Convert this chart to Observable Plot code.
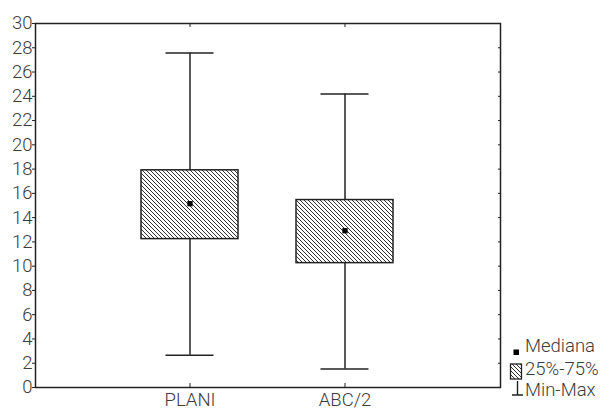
<!DOCTYPE html>
<html>
<head>
<meta charset="utf-8">
<script src="https://cdn.jsdelivr.net/npm/d3@7"></script>
<script src="https://cdn.jsdelivr.net/npm/@observablehq/plot@0.6"></script>
<style>
  html, body { margin: 0; padding: 0; background: #fff; }
  #chart svg { font-family: Roboto, "DejaVu Sans", sans-serif; font-weight: 300; }
  #chart svg text { font-size: 18.5px; }
</style>
</head>
<body>
<div id="chart"></div>
<script>
const categories = ["PLANI", "ABC/2"];
const minValues = [2.65, 1.52];
const q1Values = [12.23, 10.25];
const medianValues = [15.15, 12.92];
const q3Values = [17.9, 15.45];
const maxValues = [27.57, 24.19];
const yTicks = [0, 2, 4, 6, 8, 10, 12, 14, 16, 18, 20, 22, 24, 26, 28, 30];
const legendLabels = ["Mediana", "25%-75%", "Min-Max"];

const data = categories.map((c, i) => ({
  cat: c, min: minValues[i], q1: q1Values[i], med: medianValues[i], q3: q3Values[i], max: maxValues[i]
}));

const ink = "#222";
const textColor = "#3c3c3c";

const plot = Plot.plot({
  width: 612,
  height: 410,
  marginLeft: 35,
  marginRight: 112,
  marginTop: 23,
  marginBottom: 23,
  style: { fontSize: "18.5px", fontFamily: "Roboto, 'DejaVu Sans', sans-serif", color: textColor, background: "#fff" },
  x: { type: "band", domain: categories, paddingInner: 0.374, paddingOuter: 0.687, label: null },
  y: { domain: [0, 30], label: null },
  marks: [
    Plot.ruleX(data, { x: "cat", y1: "min", y2: "max", stroke: ink, strokeWidth: 1.5 }),
    Plot.tickY(data, { x: "cat", y: "min", stroke: ink, strokeWidth: 1.5, insetLeft: 24.5, insetRight: 24.5 }),
    Plot.tickY(data, { x: "cat", y: "max", stroke: ink, strokeWidth: 1.5, insetLeft: 24.5, insetRight: 24.5 }),
    Plot.barY(data, { x: "cat", y1: "q1", y2: "q3", fill: "url(#hatch)", stroke: ink, strokeWidth: 1.5 }),
    Plot.dot(data, { x: "cat", y: "med", symbol: "square", r: 3, fill: "#000", stroke: "none" }),
    Plot.axisY({ anchor: "left", ticks: yTicks, tickSize: 3, tickPadding: 0, stroke: ink, fill: textColor, fontSize: 18.5 }),
    Plot.axisY({ anchor: "right", ticks: yTicks, tickSize: 3, dx: -3, text: null, stroke: ink }),
    Plot.axisX({ anchor: "bottom", tickSize: 4, dy: -4, text: null, stroke: ink }),
    Plot.axisX({ anchor: "bottom", tickSize: 0, tickPadding: 5, fill: textColor, fontSize: 18.5 }),
    Plot.axisX({ anchor: "top", tickSize: 3, dy: 3, text: null, stroke: ink }),
    Plot.frame({ stroke: ink, strokeWidth: 1.5 })
  ]
});

// hatch pattern
const svg = d3.select(plot);
const defs = svg.insert("defs", ":first-child");
const pat = defs.append("pattern")
  .attr("id", "hatch").attr("patternUnits", "userSpaceOnUse")
  .attr("width", 4).attr("height", 4);
pat.append("rect").attr("width", 4).attr("height", 4).attr("fill", "#fff");
pat.append("path")
  .attr("d", "M-1,-1L5,5M3,-1L5,1M-1,3L1,5")
  .attr("stroke", "#333").attr("stroke-width", 1);

// legend
const lg = svg.append("g").attr("font-family", "Roboto, 'DejaVu Sans', sans-serif")
  .attr("fill", textColor).attr("text-anchor", "start");
lg.append("rect").attr("x", 513.5).attr("y", 349.5).attr("width", 5.5).attr("height", 5.5).attr("fill", "#000");
lg.append("rect").attr("x", 510.5).attr("y", 364).attr("width", 11).attr("height", 15)
  .attr("fill", "url(#hatch)").attr("stroke", ink).attr("stroke-width", 1.3);
lg.append("path").attr("d", "M517.5,381V395M512,395H523").attr("stroke", ink).attr("stroke-width", 1.4).attr("fill", "none");
const ly = [352, 374.5, 396];
legendLabels.forEach((t, i) => {
  lg.append("text").attr("x", 525).attr("y", ly[i]).attr("text-anchor", "start").text(t);
});

document.getElementById("chart").appendChild(plot);
</script>
</body>
</html>
